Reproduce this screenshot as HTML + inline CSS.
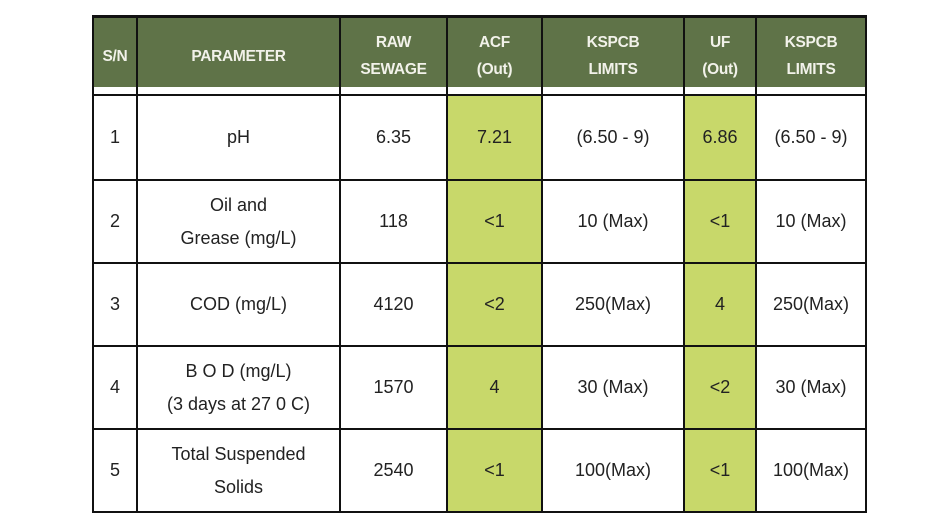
<!DOCTYPE html>
<html><head><style>
body{margin:0;width:940px;height:520px;background:#fff;position:relative;overflow:hidden;font-family:"Liberation Sans",Arial,sans-serif}
.b{position:absolute}
.v{position:absolute;background:#111;width:2px}
.h{position:absolute;background:#111;height:2px}
.t{position:absolute;display:flex;align-items:center;justify-content:center;text-align:center;font-size:18px;color:#222;line-height:33px}
.hd{color:#f2f2ea;font-weight:bold;font-size:15.5px;line-height:27px;letter-spacing:-0.3px}
</style></head><body>
<div class="b" style="left:93px;top:16px;width:773px;height:71px;background:#5f7348"></div>
<div class="b" style="left:448px;top:96px;width:94px;height:416px;background:#c8d86a"></div>
<div class="b" style="left:685px;top:96px;width:71px;height:416px;background:#c8d86a"></div>
<div class="h" style="left:92px;top:15px;width:775px;height:3px"></div>
<div class="h" style="left:92px;top:94px;width:775px"></div>
<div class="h" style="left:92px;top:179px;width:775px"></div>
<div class="h" style="left:92px;top:262px;width:775px"></div>
<div class="h" style="left:92px;top:345px;width:775px"></div>
<div class="h" style="left:92px;top:428px;width:775px"></div>
<div class="h" style="left:92px;top:511px;width:775px"></div>
<div class="v" style="left:92px;top:15px;height:498px"></div>
<div class="v" style="left:136px;top:15px;height:498px"></div>
<div class="v" style="left:339px;top:15px;height:498px"></div>
<div class="v" style="left:446px;top:15px;height:498px"></div>
<div class="v" style="left:541px;top:15px;height:498px"></div>
<div class="v" style="left:683px;top:15px;height:498px"></div>
<div class="v" style="left:755px;top:15px;height:498px"></div>
<div class="v" style="left:865px;top:15px;height:498px"></div>

<div class="t hd" style="left:94px;top:17px;width:42px;height:78px">S/N</div>
<div class="t hd" style="left:138px;top:17px;width:201px;height:78px">PARAMETER</div>
<div class="t hd" style="left:341px;top:17px;width:105px;height:78px">RAW<br>SEWAGE</div>
<div class="t hd" style="left:448px;top:17px;width:93px;height:78px">ACF<br>(Out)</div>
<div class="t hd" style="left:543px;top:17px;width:140px;height:78px">KSPCB<br>LIMITS</div>
<div class="t hd" style="left:685px;top:17px;width:70px;height:78px">UF<br>(Out)</div>
<div class="t hd" style="left:757px;top:17px;width:108px;height:78px">KSPCB<br>LIMITS</div>

<div class="t" style="left:94px;top:96px;width:42px;height:83px">1</div>
<div class="t" style="left:138px;top:96px;width:201px;height:83px">pH</div>
<div class="t" style="left:341px;top:96px;width:105px;height:83px">6.35</div>
<div class="t" style="left:448px;top:96px;width:93px;height:83px">7.21</div>
<div class="t" style="left:543px;top:96px;width:140px;height:83px">(6.50 - 9)</div>
<div class="t" style="left:685px;top:96px;width:70px;height:83px">6.86</div>
<div class="t" style="left:757px;top:96px;width:108px;height:83px">(6.50 - 9)</div>

<div class="t" style="left:94px;top:181px;width:42px;height:81px">2</div>
<div class="t" style="left:138px;top:181px;width:201px;height:81px">Oil and<br>Grease (mg/L)</div>
<div class="t" style="left:341px;top:181px;width:105px;height:81px">118</div>
<div class="t" style="left:448px;top:181px;width:93px;height:81px">&lt;1</div>
<div class="t" style="left:543px;top:181px;width:140px;height:81px">10 (Max)</div>
<div class="t" style="left:685px;top:181px;width:70px;height:81px">&lt;1</div>
<div class="t" style="left:757px;top:181px;width:108px;height:81px">10 (Max)</div>

<div class="t" style="left:94px;top:264px;width:42px;height:81px">3</div>
<div class="t" style="left:138px;top:264px;width:201px;height:81px">COD (mg/L)</div>
<div class="t" style="left:341px;top:264px;width:105px;height:81px">4120</div>
<div class="t" style="left:448px;top:264px;width:93px;height:81px">&lt;2</div>
<div class="t" style="left:543px;top:264px;width:140px;height:81px">250(Max)</div>
<div class="t" style="left:685px;top:264px;width:70px;height:81px">4</div>
<div class="t" style="left:757px;top:264px;width:108px;height:81px">250(Max)</div>

<div class="t" style="left:94px;top:347px;width:42px;height:81px">4</div>
<div class="t" style="left:138px;top:347px;width:201px;height:81px">B O D (mg/L)<br>(3 days at 27 0 C)</div>
<div class="t" style="left:341px;top:347px;width:105px;height:81px">1570</div>
<div class="t" style="left:448px;top:347px;width:93px;height:81px">4</div>
<div class="t" style="left:543px;top:347px;width:140px;height:81px">30 (Max)</div>
<div class="t" style="left:685px;top:347px;width:70px;height:81px">&lt;2</div>
<div class="t" style="left:757px;top:347px;width:108px;height:81px">30 (Max)</div>

<div class="t" style="left:94px;top:430px;width:42px;height:81px">5</div>
<div class="t" style="left:138px;top:430px;width:201px;height:81px">Total Suspended<br>Solids</div>
<div class="t" style="left:341px;top:430px;width:105px;height:81px">2540</div>
<div class="t" style="left:448px;top:430px;width:93px;height:81px">&lt;1</div>
<div class="t" style="left:543px;top:430px;width:140px;height:81px">100(Max)</div>
<div class="t" style="left:685px;top:430px;width:70px;height:81px">&lt;1</div>
<div class="t" style="left:757px;top:430px;width:108px;height:81px">100(Max)</div>
</body></html>
